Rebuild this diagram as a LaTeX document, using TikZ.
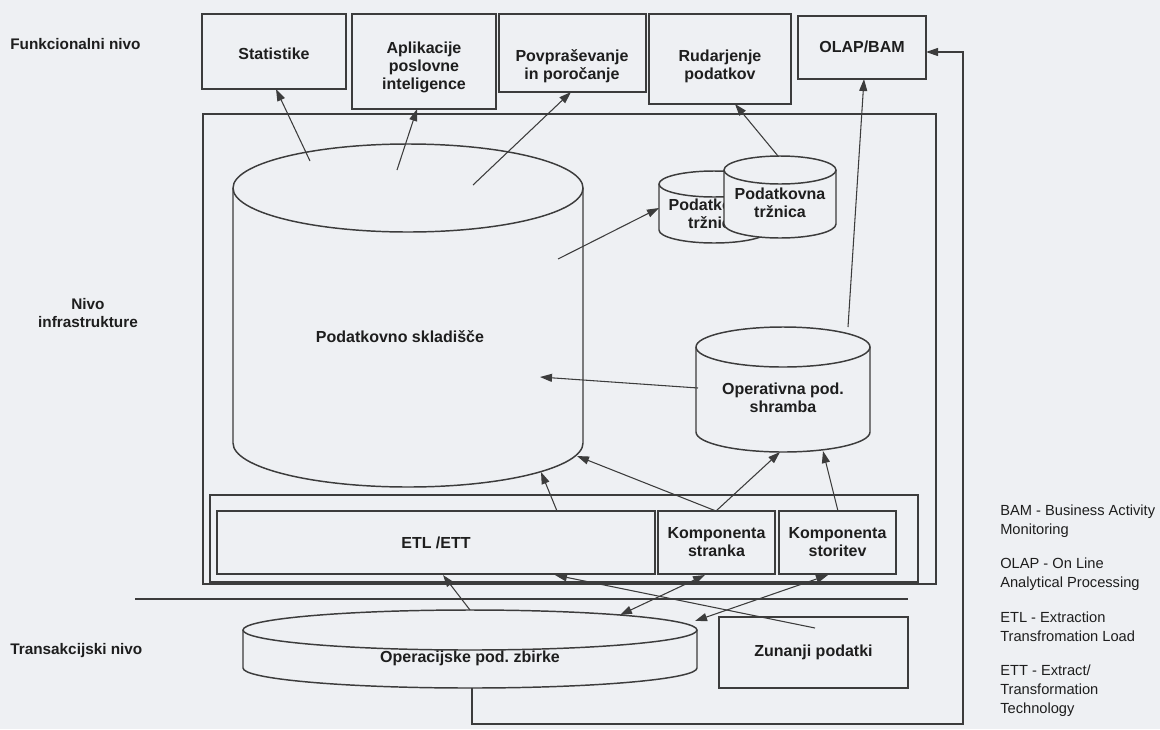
\documentclass[tikz,border=0pt]{standalone}
\usepackage{fontspec}
\setmainfont{Liberation Sans}
\usetikzlibrary{arrows.meta,fit}
\definecolor{bgc}{HTML}{EEF0F3}
\definecolor{linec}{HTML}{3C3C3C}
\definecolor{textc}{HTML}{1E1E1E}
\newcommand{\mycyl}[5]{%
  \fill[bgc] (#1-#2,#3) -- (#1-#2,#4) arc[start angle=180,end angle=0,x radius=#2,y radius=#5]
    -- (#1+#2,#3) arc[start angle=0,end angle=-180,x radius=#2,y radius=#5] -- cycle;
  \draw[shape line] (#1-#2,#3) -- (#1-#2,#4) arc[start angle=180,end angle=0,x radius=#2,y radius=#5] -- (#1+#2,#3);
  \draw[shape line] (#1,#3) ellipse[x radius=#2,y radius=#5];
}
\frenchspacing
\begin{document}
\begin{tikzpicture}[x=0.75pt,y=-0.75pt,
  shape line/.style={draw=linec, line width=1.1pt},
  box/.style={draw=linec, line width=1.1pt, inner sep=0pt, outer sep=0pt},
  lbl/.style={text=textc, font=\bfseries\fontsize{12}{13.5}\selectfont, align=center, inner sep=0pt},
  lvl/.style={text=textc, font=\bfseries\fontsize{11.5}{14}\selectfont, inner sep=0pt},
  leg/.style={text=textc, font=\fontsize{11}{14}\selectfont, align=left, anchor=north west, inner sep=0pt},
  conn/.style={draw=linec, line width=0.8pt, -{Triangle[length=9pt,width=6pt]}},
  dconn/.style={draw=linec, line width=0.8pt, {Triangle[length=9pt,width=6pt]}-{Triangle[length=9pt,width=6pt]}},
  plain/.style={draw=linec, line width=0.9pt},
]
\fill[bgc] (0,0) rectangle (1160,729);
\useasboundingbox (0,0) rectangle (1160,729);

% level labels
\node[lvl, anchor=west] (lfun) at (10,44) {Funkcionalni nivo};
\node[lvl, align=center] (linf) at (88,313) {Nivo\\infrastrukture};
\node[lvl, anchor=west] (ltra) at (10,651) {Transakcijski nivo};

% top (functional) boxes
\node[box, fit={(202,14) (346,89)}] (stat) {};
\node[box, fit={(352,14) (496,109)}] (apl) {};
\node[box, fit={(499,14) (646,92)}] (povp) {};
\node[box, fit={(649,14) (791,104)}] (rud) {};
\node[box, fit={(798,16) (926,79)}] (olap) {};
\node[lbl] (tstat) at (274,54) {Statistike};
\node[lbl] (tapl) at (424,67) {Aplikacije\\poslovne\\inteligence};
\node[lbl] (tpovp) at (572,66) {Povpraševanje\\in poročanje};
\node[lbl] (trud) at (720,66) {Rudarjenje\\podatkov};
\node[lbl] (tolap) at (862,47) {OLAP/BAM};

% infrastructure frame
\node[box, fit={(203,114) (936,584)}] (infra) {};

% data warehouse
\mycyl{408}{175}{188}{443}{44}
\node[lbl] (twh) at (400,337) {Podatkovno skladišče};

% data marts
\mycyl{714}{55}{184}{230}{13}
\node[lbl] (tdm1) at (714,214) {Podatkovna\\tržnica};
\mycyl{780}{56}{170}{224}{14}
\node[lbl] (tdm2) at (780,203) {Podatkovna\\tržnica};

% operational data store
\mycyl{783}{87}{347}{432}{20}
\node[lbl] (tods) at (783,398) {Operativna pod.\\shramba};

% ETL layer
\node[box, fit={(210,495) (918,582)}] (etlc) {};
\node[box, fit={(217,511) (655,574)}] (etl) {};
\node[box, fit={(658,511) (775,574)}] (kstr) {};
\node[box, fit={(779,511) (896,574)}] (ksto) {};
\node[lbl] (tetl) at (436,543) {ETL /ETT};
\node[lbl] (tkstr) at (kstr.center) {Komponenta\\stranka};
\node[lbl] (tksto) at (ksto.center) {Komponenta\\storitev};

% transaction level separator
\coordinate (sepL) at (135,599);
\coordinate (sepR) at (908,599);
\draw[plain] (sepL) -- (sepR);

% operational databases
\mycyl{470}{227}{630}{668}{20}
\node[lbl] (topd) at (470,658) {Operacijske pod.\ zbirke};

% external data
\node[box, fit={(719,617) (908,688)}] (ext) {};
\node[lbl] (text) at (ext.center) {Zunanji podatki};

% legend
\node[leg] (lg1) at (1000,505) {BAM - Business Activity\\Monitoring};
\node[leg] (lg2) at (1000,558) {OLAP - On Line\\Analytical Processing};
\node[leg] (lg3) at (1000,612) {ETL - Extraction\\Transfromation Load};
\node[leg] (lg4) at (1000,665) {ETT - Extract/\\Transformation\\Technology};

% connector end points
\coordinate (wh1) at (310,161);
\coordinate (stat1) at (276,89);
\coordinate (wh2) at (397,170);
\coordinate (apl1) at (417,109);
\coordinate (wh3) at (473,185);
\coordinate (povp1) at (571,92);
\coordinate (wh4) at (558,259);
\coordinate (dm1) at (659,208);
\coordinate (dm2) at (778,156);
\coordinate (rud1) at (735,104);
\coordinate (ods1) at (848,327);
\coordinate (olap1) at (864,79);
\coordinate (ods2) at (698,388);
\coordinate (wh5) at (540,377);
\coordinate (etl1) at (557,511);
\coordinate (wh6) at (541,472);
\coordinate (kstr1) at (716,511);
\coordinate (wh7) at (577,456);
\coordinate (ods3) at (780,452);
\coordinate (ksto1) at (838,511);
\coordinate (ods4) at (823,451);
\coordinate (opd1) at (470,610);
\coordinate (etl2) at (443,575);
\coordinate (ext1) at (815,628);
\coordinate (etl3) at (555,575);
\coordinate (opd2) at (620,615);
\coordinate (kstr2) at (705,575);
\coordinate (opd3) at (695,621);
\coordinate (ksto2) at (828,575);
\coordinate (opd4) at (472,688);
\coordinate (olap2) at (926,52);

% connectors
\draw[conn] (wh1) -- (stat1);
\draw[conn] (wh2) -- (apl1);
\draw[conn] (wh3) -- (povp1);
\draw[conn] (wh4) -- (dm1);
\draw[conn] (dm2) -- (rud1);
\draw[conn] (ods1) -- (olap1);
\draw[conn] (ods2) -- (wh5);
\draw[conn] (etl1) -- (wh6);
\draw[conn] (kstr1) -- (wh7);
\draw[conn] (kstr1) -- (ods3);
\draw[conn] (ksto1) -- (ods4);
\draw[conn] (opd1) -- (etl2);
\draw[conn] (ext1) -- (etl3);
\draw[dconn] (opd2) -- (kstr2);
\draw[dconn] (opd3) -- (ksto2);
\draw[conn, line width=0.9pt] (opd4) |- (963,724) |- (olap2);
\end{tikzpicture}
\end{document}
